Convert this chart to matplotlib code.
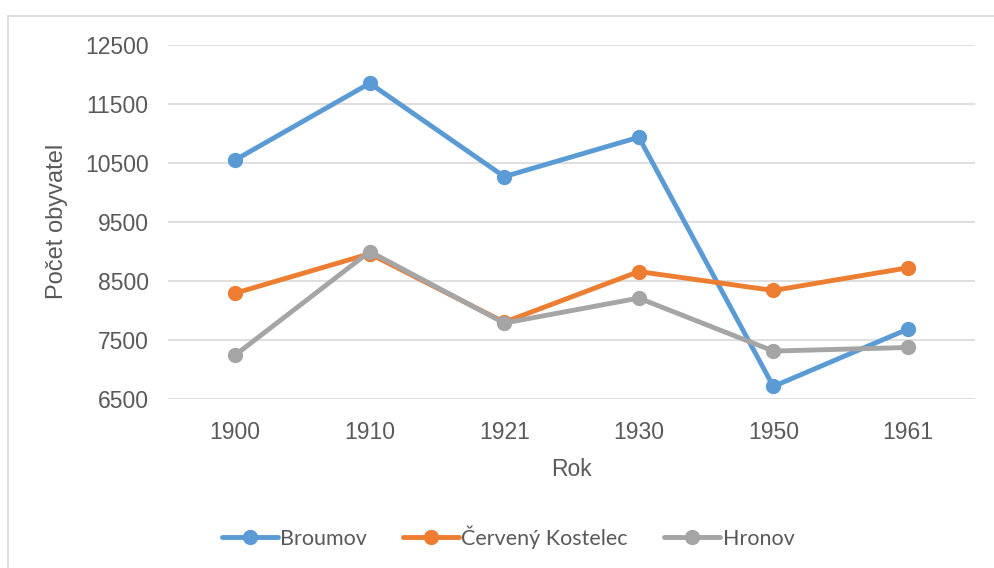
import matplotlib.pyplot as plt
import matplotlib.lines as mlines

# Data
years = ["1900", "1910", "1921", "1930", "1950", "1961"]
broumov = [10549, 11847, 10266, 10933, 6713, 7684]
cerveny_kostelec = [8293, 8960, 7800, 8659, 8338, 8722]
hronov = [7245, 8997, 7786, 8209, 7312, 7373]

series = [
    ("Broumov", broumov, "#5B9BD5"),
    ("Červený Kostelec", cerveny_kostelec, "#ED7D31"),
    ("Hronov", hronov, "#A5A5A5"),
]

fig = plt.figure(figsize=(9.94, 5.68), dpi=100)
ax = fig.add_axes([0.169, 0.2975, 0.812, 0.6238])

x = list(range(len(years)))
for name, vals, col in series:
    ax.plot(x, vals, color=col, linewidth=3.5, marker="o", markersize=10,
            label=name, solid_joinstyle="round", solid_capstyle="round")

ax.set_xlim(-0.5, len(years) - 0.5)
ax.set_ylim(6500, 12500)
ax.set_yticks(range(6500, 12501, 1000))
ax.set_xticks(x)
ax.set_xticklabels(years)

for s in ax.spines.values():
    s.set_visible(False)
ax.grid(axis="y", color="#D9D9D9", linewidth=1.2)
ax.set_axisbelow(True)
ax.tick_params(length=0, labelsize=16.5, labelcolor="#595959")
ax.tick_params(axis="y", pad=14)
ax.tick_params(axis="x", pad=16)
for lab in ax.get_xticklabels() + ax.get_yticklabels():
    lab.set_family("Liberation Sans")

ax.set_ylabel("Počet obyvatel", fontsize=17, color="#595959",
              family="Liberation Sans", labelpad=12)
ax.set_xlabel("Rok", fontsize=16.5, color="#595959",
              family="Liberation Sans", labelpad=10)

# light chart frame (left and top visible)
fig.add_artist(mlines.Line2D([7.5 / 994, 7.5 / 994], [0, 1 - 15.5 / 568],
                             color="#D9D9D9", linewidth=1.2, transform=fig.transFigure))
fig.add_artist(mlines.Line2D([7.5 / 994, 1], [1 - 15.5 / 568, 1 - 15.5 / 568],
                             color="#D9D9D9", linewidth=1.2, transform=fig.transFigure))

leg = fig.legend(loc="center", bbox_to_anchor=(0.511, 1 - 537 / 568), ncol=3,
                 frameon=False, handlelength=2.6, handletextpad=0.1,
                 columnspacing=1.7, prop={"family": "Lato", "size": 15.5})
for t in leg.get_texts():
    t.set_color("#595959")

fig.savefig("out.png", dpi=100)
